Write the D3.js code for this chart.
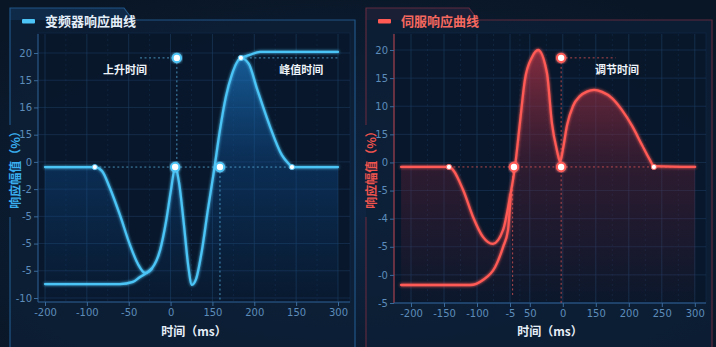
<!DOCTYPE html>
<html>
<head>
<meta charset="utf-8">
<script src="https://cdn.jsdelivr.net/npm/d3@7"></script>
<style>
  body { margin: 0; background: #0a1829; }
  svg { display: block; font-family: "Noto Sans CJK SC", "Noto Sans", sans-serif; }
</style>
</head>
<body>
<div id="chart"></div>
<script>
// ---- 变频器 (left panel) ----  x / y are in axis-tick units
var vfdXTickPos = [0, 1, 2, 3, 4, 5, 6, 7];
var vfdXTicks = ["-200", "-100", "-50", "0", "150", "200", "150", "300"];
var vfdYTicks = ["-10", "-5", "-5", "-5", "-2", "0", "15", "16", "15", "20"];   // bottom -> top

var vfdRespX = [0, 1.19, 1.36, 1.55, 1.79, 2.03, 2.22, 2.39, 2.56, 2.75, 2.89, 3.01, 3.11, 3.20, 3.32, 3.42, 3.51, 3.61, 3.75, 3.89, 4.04, 4.18, 4.32, 4.47, 4.59, 4.68, 4.87, 5.06, 5.38, 5.66, 5.83, 5.90, 7.0];
var vfdRespY = [4.81, 4.81, 4.67, 4.04, 3.05, 1.95, 1.25, 0.92, 1.10, 1.76, 2.79, 3.97, 4.81, 4.26, 2.68, 1.21, 0.48, 0.70, 1.76, 3.23, 4.70, 6.17, 7.38, 8.23, 8.67, 8.82, 8.60, 7.71, 6.28, 5.25, 4.92, 4.81, 4.81];
var vfdStepX = [0, 1.79, 2.10, 2.27, 2.46, 2.55, 3.5, 4.68, 4.89, 5.14, 7.0];
var vfdStepY = [0.51, 0.51, 0.59, 0.77, 0.96, 1.08, null, 8.82, 8.93, 9.04, 9.04];

var vfdDotX = [1.19, 5.90, 4.68];
var vfdDotY = [4.81, 4.81, 8.82];
var vfdKeyX = [3.11, 4.18, 3.15];
var vfdKeyY = [4.81, 4.81, 8.82];
var vfdGuides = [[1.19, 4.81, 7.0, 4.81], [3.15, 8.82, 3.15, 4.81], [2.27, 8.82, 3.15, 8.82], [4.68, 8.82, 7.0, 8.82], [4.18, 4.81, 4.18, -0.1]];
var vfdNotes = ["上升时间", "峰值时间"];
var vfdNoteX = [1.91, 6.12];
var vfdNoteY = [8.41, 8.41];

// ---- 伺服 (right panel) ----
var servoXTickPos = [0, 1, 2, 3, 3.6, 4.6, 5.6, 6.6, 7.6, 8.6];
var servoXTicks = ["-200", "-150", "-100", "-5", "50", "0", "150", "200", "250", "300"];
var servoYTicks = ["-5", "-0", "-5", "-4", "-5", "0", "15", "10", "15", "20"];  // bottom -> top

var servoRespX = [-0.30, 1.15, 1.58, 1.88, 2.18, 2.48, 2.79, 3.0, 3.15, 3.30, 3.45, 3.67, 3.85, 4.12, 4.27, 4.42, 4.52, 4.61, 4.73, 4.91, 5.12, 5.33, 5.55, 5.79, 6.09, 6.39, 6.70, 7.0, 7.24, 7.36, 8.61];
var servoRespY = [4.84, 4.84, 4.02, 3.06, 2.35, 2.10, 2.60, 3.77, 4.84, 6.40, 7.93, 8.75, 9.0, 8.18, 6.40, 5.44, 5.02, 5.51, 6.33, 7.01, 7.36, 7.52, 7.58, 7.51, 7.29, 6.87, 6.30, 5.62, 5.09, 4.87, 4.84];
var servoStepX = [-0.30, 1.79, 2.18, 2.55, 2.79, 2.94, 3.02];
var servoStepY = [0.64, 0.64, 0.82, 1.28, 1.99, 2.60, 3.85];

var servoDotX = [1.15, 7.36];
var servoDotY = [4.84, 4.84];
var servoKeyX = [3.12, 4.55, 4.55];
var servoKeyY = [4.84, 4.84, 8.72];
var servoGuides = [[1.15, 4.84, 8.61, 4.84], [3.08, 4.84, 3.08, 0.21], [4.55, 8.72, 4.55, 0], [4.55, 8.72, 6.2, 8.72]];
var servoNotes = ["调节时间"];
var servoNoteX = [6.24];
var servoNoteY = [8.32];

var W = 716, H = 347;

var svg = d3.select("#chart").append("svg")
    .attr("width", W)
    .attr("height", H);

var defs = svg.append("defs");

var bg = defs.append("radialGradient").attr("id", "bg")
    .attr("cx", "50%").attr("cy", "60%").attr("r", "70%");
bg.append("stop").attr("offset", "0%").attr("stop-color", "#0e2440");
bg.append("stop").attr("offset", "100%").attr("stop-color", "#091626");

var glow = defs.append("filter").attr("id", "glow")
    .attr("x", "-20%").attr("y", "-20%").attr("width", "140%").attr("height", "140%");
glow.append("feGaussianBlur").attr("in", "SourceGraphic").attr("stdDeviation", 1.8).attr("result", "blur");
var gm = glow.append("feMerge");
gm.append("feMergeNode").attr("in", "blur");
gm.append("feMergeNode").attr("in", "SourceGraphic");

svg.append("rect").attr("width", W).attr("height", H).attr("fill", "url(#bg)");

function zip(xs, ys) {
  return xs.map(function(x, i) { return [x, ys[i]]; });
}

function drawPanel(o) {
  var g = svg.append("g");

  // area gradient
  var grad = defs.append("linearGradient").attr("id", o.id + "-area")
      .attr("gradientUnits", "userSpaceOnUse")
      .attr("x1", 0).attr("x2", 0).attr("y1", 50).attr("y2", 300);
  grad.append("stop").attr("offset", "0%").attr("stop-color", o.fillTop).attr("stop-opacity", 0.65);
  grad.append("stop").attr("offset", "45%").attr("stop-color", o.fillMid).attr("stop-opacity", 0.4);
  grad.append("stop").attr("offset", "100%").attr("stop-color", o.fillMid).attr("stop-opacity", 0.04);

  // panel frame + header tab
  g.append("rect")
      .attr("x", o.left).attr("y", 20).attr("width", o.right - o.left).attr("height", H - 20)
      .attr("fill", "#0c1f36").attr("opacity", 0.8);
  g.append("path")
      .attr("d", "M" + o.left + ",8H" + (o.tabEnd) + "L" + (o.tabEnd + 9) + ",20H" + o.left + "Z")
      .attr("fill", o.tabFill);
  g.append("path")
      .attr("d", "M" + o.left + ",125V8H" + o.tabEnd + "L" + (o.tabEnd + 9) + ",20H" + o.right + "V" + H +
                 "M" + o.left + ",217V" + H)
      .attr("fill", "none")
      .attr("stroke", o.frame)
      .attr("stroke-width", 1.2);

  g.append("rect")
      .attr("x", o.left + 12).attr("y", 19).attr("width", 13).attr("height", 4.5).attr("rx", 1)
      .attr("fill", o.color);
  g.append("text")
      .attr("x", o.left + 35).attr("y", 26)
      .attr("font-size", 13).attr("font-weight", "bold")
      .attr("fill", o.titleColor)
      .text(o.title);

  var x = d3.scaleLinear().domain(o.xDomain).range(o.xRange);
  var y = d3.scaleLinear().domain([0, 9]).range(o.yRange);

  // plot background
  g.append("rect")
      .attr("x", o.plot[0]).attr("y", 33).attr("width", o.plot[1] - o.plot[0]).attr("height", o.axisY - 33)
      .attr("fill", "#071528").attr("opacity", 0.75)
      .attr("stroke", "#16365a").attr("stroke-opacity", 0.5);

  // grid
  var minor = [];
  o.xTickPos.forEach(function(d, i) {
    minor.push(d);
    if (i < o.xTickPos.length - 1) minor.push((d + o.xTickPos[i + 1]) / 2);
  });
  g.append("g").selectAll("line").data(minor).enter().append("line")
      .attr("x1", function(d) { return x(d); }).attr("x2", function(d) { return x(d); })
      .attr("y1", 34).attr("y2", o.axisY)
      .attr("stroke", "#1d3d62")
      .attr("stroke-opacity", function(d, i) { return i % 2 ? 0.35 : 0.6; })
      .attr("stroke-dasharray", function(d, i) { return i % 2 ? "2,3" : null; });
  g.append("g").selectAll("line").data(d3.range(10)).enter().append("line")
      .attr("x1", o.plot[0]).attr("x2", o.plot[1])
      .attr("y1", function(d) { return y(d); }).attr("y2", function(d) { return y(d); })
      .attr("stroke", "#1d3d62").attr("stroke-opacity", 0.55);

  // axes
  var ya = g.append("g")
      .attr("transform", "translate(" + o.plot[0] + ",0)")
      .call(d3.axisLeft(y).tickValues(d3.range(10)).tickSize(4)
            .tickFormat(function(d) { return o.yTicks[d]; }));
  ya.select(".domain").attr("d", "M0,34V" + o.axisY).attr("stroke", o.yAxisColor);
  ya.selectAll(".tick line").attr("stroke", "#3a6a9a");
  ya.selectAll(".tick text").attr("fill", "#5d8cba").attr("font-size", 10)
      .attr("font-family", "DejaVu Sans, sans-serif").attr("x", -6);

  var xa = g.append("g")
      .attr("transform", "translate(0," + o.axisY + ")")
      .call(d3.axisBottom(x).tickValues(o.xTickPos).tickSize(4)
            .tickFormat(function(d, i) { return o.xTicks[i]; }));
  xa.select(".domain").attr("d", "M" + o.plot[0] + ",0H" + o.plot[1]).attr("stroke", "#2e5f92");
  xa.selectAll(".tick line").attr("stroke", "#3a6a9a");
  xa.selectAll(".tick text").attr("fill", "#5d8cba").attr("font-size", 10)
      .attr("font-family", "DejaVu Sans, sans-serif").attr("y", 7);

  g.append("text")
      .attr("transform", "translate(" + (o.left + 4) + ",167) rotate(-90)")
      .attr("text-anchor", "middle").attr("dominant-baseline", "central")
      .attr("font-size", 12).attr("font-weight", "bold")
      .attr("fill", o.yTitleColor)
      .text("响应幅值（%）");
  g.append("text")
      .attr("x", (o.plot[0] + o.plot[1]) / 2).attr("y", 336)
      .attr("text-anchor", "middle")
      .attr("font-size", 12).attr("font-weight", "bold")
      .attr("fill", "#e6eef8")
      .text("时间（ms）");

  // area + curves
  var resp = zip(o.respX, o.respY);
  var step = zip(o.stepX, o.stepY);
  var area = d3.area()
      .x(function(d) { return x(d[0]); })
      .y0(o.axisY - 2)
      .y1(function(d) { return y(d[1]); })
      .curve(d3.curveMonotoneX);
  g.append("path").datum(resp).attr("d", area).attr("fill", "url(#" + o.id + "-area)");

  // guides
  g.append("g").selectAll("line").data(o.guides).enter().append("line")
      .attr("x1", function(d) { return x(d[0]); }).attr("y1", function(d) { return y(d[1]); })
      .attr("x2", function(d) { return x(d[2]); }).attr("y2", function(d) { return y(d[3]); })
      .attr("stroke", o.guideColor).attr("stroke-opacity", 0.75)
      .attr("stroke-width", 1).attr("stroke-dasharray", "2,2.5");

  var line = d3.line()
      .defined(function(d) { return d[1] !== null; })
      .x(function(d) { return x(d[0]); })
      .y(function(d) { return y(d[1]); })
      .curve(d3.curveMonotoneX);
  [step, resp].forEach(function(data) {
    g.append("path").datum(data).attr("d", line)
        .attr("fill", "none").attr("stroke", o.color)
        .attr("stroke-width", 2.3).attr("stroke-linecap", "round")
        .style("filter", "url(#glow)");
  });

  // markers
  g.append("g").selectAll("circle").data(zip(o.keyX, o.keyY)).enter().append("circle")
      .attr("cx", function(d) { return x(d[0]); }).attr("cy", function(d) { return y(d[1]); })
      .attr("r", 4.2)
      .attr("fill", "#ffffff").attr("stroke", o.color).attr("stroke-width", 2)
      .style("filter", "url(#glow)");
  g.append("g").selectAll("circle").data(zip(o.dotX, o.dotY)).enter().append("circle")
      .attr("cx", function(d) { return x(d[0]); }).attr("cy", function(d) { return y(d[1]); })
      .attr("r", 2.6)
      .attr("fill", "#ffffff").attr("stroke", o.color).attr("stroke-width", 0.8);

  g.append("g").selectAll("text").data(o.notes).enter().append("text")
      .attr("x", function(d, i) { return x(o.noteX[i]); })
      .attr("y", function(d, i) { return y(o.noteY[i]); })
      .attr("text-anchor", "middle").attr("dominant-baseline", "central")
      .attr("font-size", 11).attr("font-weight", "bold")
      .attr("fill", "#eef3f9")
      .text(function(d) { return d; });
}

drawPanel({
  id: "vfd", title: "变频器响应曲线",
  left: 10, right: 355, tabEnd: 124,
  plot: [38, 350], axisY: 302,
  xDomain: [0, 7], xRange: [45, 338], yRange: [298, 53],
  xTickPos: vfdXTickPos, xTicks: vfdXTicks, yTicks: vfdYTicks,
  respX: vfdRespX, respY: vfdRespY, stepX: vfdStepX, stepY: vfdStepY,
  dotX: vfdDotX, dotY: vfdDotY, keyX: vfdKeyX, keyY: vfdKeyY,
  guides: vfdGuides, notes: vfdNotes, noteX: vfdNoteX, noteY: vfdNoteY,
  color: "#4cc4f6", titleColor: "#e4eef8", yTitleColor: "#39aef0",
  frame: "#215586", tabFill: "#0f2a48", yAxisColor: "#2e5f92",
  guideColor: "#5cb8e8", fillTop: "#1f86d8", fillMid: "#0f4f92"
});

drawPanel({
  id: "servo", title: "伺服响应曲线",
  left: 366, right: 712, tabEnd: 469,
  plot: [394, 706], axisY: 303,
  xDomain: [0, 8.6], xRange: [411, 694.8], yRange: [303, 50],
  xTickPos: servoXTickPos, xTicks: servoXTicks, yTicks: servoYTicks,
  respX: servoRespX, respY: servoRespY, stepX: servoStepX, stepY: servoStepY,
  dotX: servoDotX, dotY: servoDotY, keyX: servoKeyX, keyY: servoKeyY,
  guides: servoGuides, notes: servoNotes, noteX: servoNoteX, noteY: servoNoteY,
  color: "#ff5a54", titleColor: "#f5685f", yTitleColor: "#f0544e",
  frame: "#5e2a3e", tabFill: "#1a1f36", yAxisColor: "#c4444c",
  guideColor: "#e85a58", fillTop: "#c8384a", fillMid: "#6a2238"
});
</script>
</body>
</html>
